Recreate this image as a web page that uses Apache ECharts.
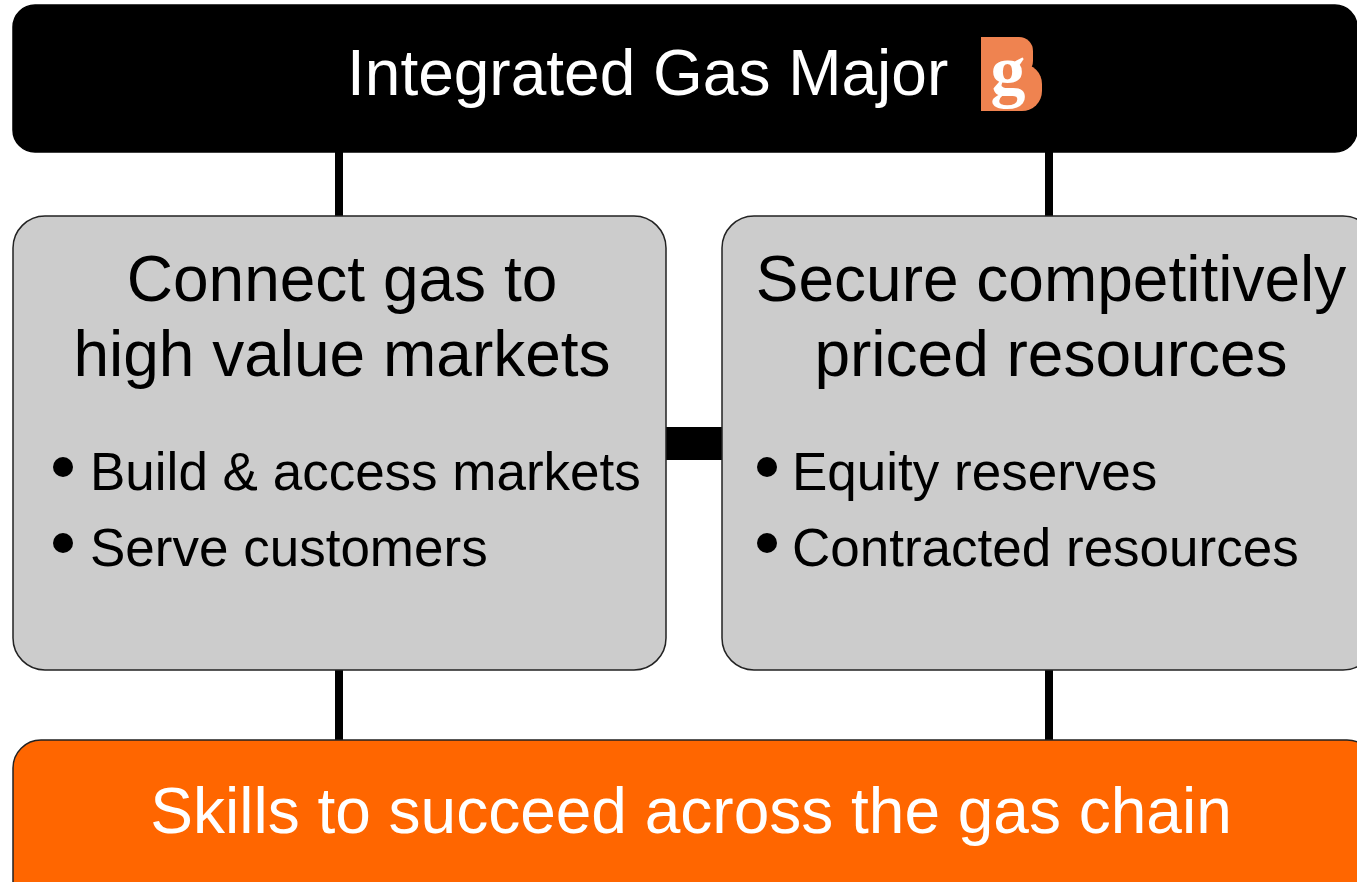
<!DOCTYPE html>
<html>
<head>
<meta charset="utf-8">
<script src="https://cdn.jsdelivr.net/npm/echarts@6/dist/echarts.min.js"></script>
<style>
html,body{margin:0;padding:0;background:#fff;}
#chart{width:1357px;height:882px;}
</style>
</head>
<body>
<div id="chart"></div>
<script>
// Text content of the diagram
var titleText = 'Integrated Gas Major';
var logoLetter = 'g';
var leftHeading = ['Connect gas to', 'high value markets'];
var leftBullets = ['Build & access markets', 'Serve customers'];
var rightHeading = ['Secure competitively', 'priced resources'];
var rightBullets = ['Equity reserves', 'Contracted resources'];
var footerText = 'Skills to succeed across the gas chain';

var FONT = '"Liberation Sans", Arial, sans-serif';
var chart = echarts.init(document.getElementById('chart'), null, {renderer: 'canvas'});

function txt(s, x, y, size, color, align, family, weight) {
  return {
    type: 'text', z: 10,
    style: {
      text: s, x: x, y: y,
      fontSize: size, fontFamily: family || FONT,
      fontWeight: weight || 'normal',
      fill: color,
      align: align, textAlign: align,
      verticalAlign: 'middle', textVerticalAlign: 'middle'
    }
  };
}
function box(x, y, w, h, r, fill, stroke) {
  return {
    type: 'rect', z: 2,
    shape: {x: x, y: y, width: w, height: h, r: r},
    style: {fill: fill, stroke: stroke, lineWidth: 1.5}
  };
}
function bar(x, y, w, h) {
  return {type: 'rect', z: 1, shape: {x: x, y: y, width: w, height: h}, style: {fill: '#000'}};
}
function dot(cx, cy) {
  return {type: 'circle', z: 10, shape: {cx: cx, cy: cy, r: 10}, style: {fill: '#000'}};
}

var els = [];
// connectors
els.push(bar(335, 150, 8, 70));
els.push(bar(1045, 150, 8, 70));
els.push(bar(335, 666, 8, 78));
els.push(bar(1045, 666, 8, 78));
els.push(bar(664, 427, 60, 33));
// boxes
els.push(box(13, 5, 1344, 147, 22, '#000000', '#000000'));
els.push(box(13, 216, 653, 454, 32, '#CCCCCC', '#222222'));
els.push(box(722, 216, 653, 454, 32, '#CCCCCC', '#222222'));
els.push(box(13, 740, 1362, 170, 28, '#FF6600', '#222222'));
// logo
els.push({type: 'rect', z: 5, shape: {x: 981, y: 37, width: 52, height: 38, r: [0, 14, 14, 0]}, style: {fill: '#EF8350'}});
els.push({type: 'rect', z: 5, shape: {x: 981, y: 64, width: 61, height: 47, r: [0, 20, 20, 0]}, style: {fill: '#EF8350'}});
els.push(txt(logoLetter, 1008, 76, 70, '#FFFFFF', 'center', '"Liberation Serif", "DejaVu Serif", serif', 'bold'));
// title
els.push(txt(titleText, 347, 77, 64, '#FFFFFF', 'left'));
// headings
for (var i = 0; i < leftHeading.length; i++) {
  els.push(txt(leftHeading[i], 342, 283 + i * 75, 64, '#000', 'center'));
  els.push(txt(rightHeading[i], 1051, 283 + i * 75, 64, '#000', 'center'));
}
// bullets
for (var j = 0; j < leftBullets.length; j++) {
  els.push(dot(63, 467 + j * 76));
  els.push(txt(leftBullets[j], 90, 475 + j * 76, 53, '#000', 'left'));
}
for (var k = 0; k < rightBullets.length; k++) {
  els.push(dot(767, 467 + k * 76));
  els.push(txt(rightBullets[k], 792, 475 + k * 76, 53, '#000', 'left'));
}
// footer
els.push(txt(footerText, 691, 815, 64, '#FFFFFF', 'center'));

chart.setOption({
  backgroundColor: '#FFFFFF',
  animation: false,
  graphic: {elements: els}
});
</script>
</body>
</html>
